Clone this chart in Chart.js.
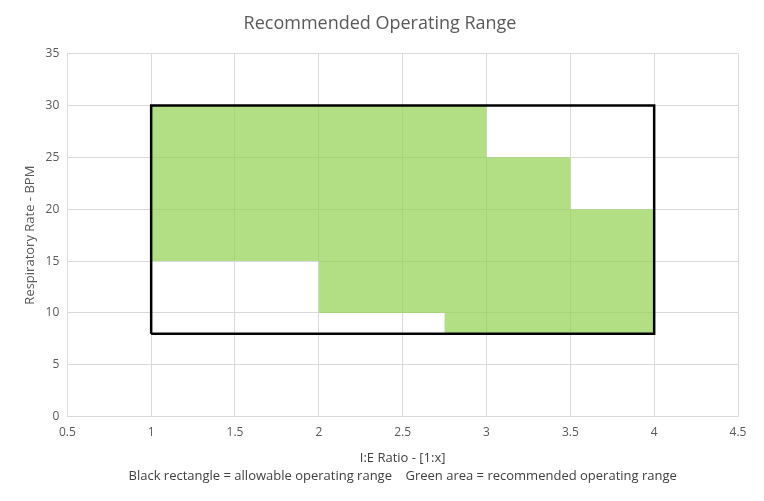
<!DOCTYPE html>
<html>
<head>
<meta charset="utf-8">
<script src="https://cdn.jsdelivr.net/npm/chart.js@4/dist/chart.umd.min.js"></script>
<style>
  html, body { margin: 0; padding: 0; background: #fff; }
  #wrap { width: 764px; height: 501px; }
</style>
</head>
<body>
<div id="wrap"><canvas id="chart"></canvas></div>
<script>
// recommended (green) area outline, walking round the shape
const greenX = [1, 3, 3, 3.5, 3.5, 4, 4, 2.75, 2.75, 2, 2, 1];
const greenY = [30, 30, 25, 25, 20, 20, 8, 8, 10, 10, 15, 15];

// allowable (black) rectangle corners
const rectX = [1, 1, 4, 4, 1];
const rectY = [8, 30, 30, 8, 8];

const xTicks = [0.5, 1, 1.5, 2, 2.5, 3, 3.5, 4, 4.5];
const yTicks = [0, 5, 10, 15, 20, 25, 30, 35];

const toPts = (xs, ys) => xs.map((x, i) => ({ x: x, y: ys[i] }));

const grey = '#595959';
const gridCol = '#d9d9d9';

const config = {
  type: 'scatter',
  data: {
    datasets: [
      {
        label: 'Allowable',
        data: toPts(rectX, rectY),
        showLine: true,
        borderColor: '#000',
        borderWidth: 2.5,
        pointRadius: 0,
        fill: false,
        tension: 0,
        order: 0
      },
      {
        label: 'Recommended',
        data: toPts(greenX, greenY),
        showLine: true,
        borderWidth: 0,
        borderColor: 'rgba(0,0,0,0)',
        backgroundColor: 'rgba(146, 208, 80, 0.7)',
        pointRadius: 0,
        fill: 'shape',
        tension: 0,
        order: 1
      }
    ]
  },
  options: {
    responsive: true,
    maintainAspectRatio: false,
    animation: false,
    layout: { padding: { top: 8, right: 26, bottom: 16, left: 22 } },
    plugins: {
      legend: { display: false },
      tooltip: { enabled: false },
      title: {
        display: true,
        text: 'Recommended Operating Range',
        color: grey,
        font: { family: 'Open Sans', size: 18, weight: 'normal' },
        padding: { top: 5, bottom: 19 }
      }
    },
    scales: {
      x: {
        type: 'linear',
        min: 0.5,
        max: 4.5,
        afterBuildTicks: axis => { axis.ticks = xTicks.map(v => ({ value: v })); },
        grid: { color: gridCol, drawTicks: false },
        border: { color: gridCol },
        ticks: {
          color: grey,
          font: { family: 'Open Sans', size: 12 },
          padding: 9,
          callback: v => String(v)
        },
        title: {
          display: true,
          text: ['I:E Ratio - [1:x]', 'Black rectangle = allowable operating range    Green area = recommended operating range'],
          color: '#404040',
          font: { family: 'Open Sans', size: 13, lineHeight: 1.38 },
          padding: { top: 0, bottom: 0 }
        }
      },
      y: {
        type: 'linear',
        min: 0,
        max: 35,
        afterBuildTicks: axis => { axis.ticks = yTicks.map(v => ({ value: v })); },
        grid: { color: gridCol, drawTicks: false },
        border: { color: gridCol },
        ticks: {
          color: grey,
          font: { family: 'Open Sans', size: 12 },
          padding: 8
        },
        title: {
          display: true,
          text: 'Respiratory Rate - BPM',
          color: grey,
          font: { family: 'Open Sans', size: 13 },
          padding: { top: 0, bottom: 0 }
        }
      }
    }
  }
};

new Chart(document.getElementById('chart'), config);
</script>
</body>
</html>
